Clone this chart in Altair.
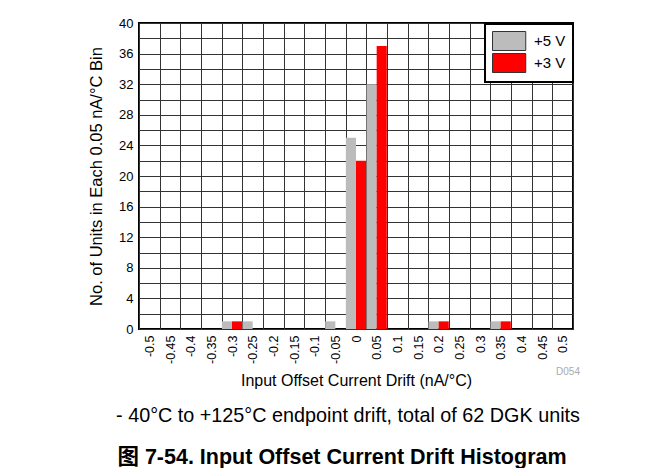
import altair as alt
import pandas as pd

bins = ["-0.5", "-0.45", "-0.4", "-0.35", "-0.3", "-0.25", "-0.2", "-0.15", "-0.1", "-0.05",
        "0", "0.05", "0.1", "0.15", "0.2", "0.25", "0.3", "0.35", "0.4", "0.45", "0.5"]
units_5v = [0, 0, 0, 0, 1, 1, 0, 0, 0, 1, 25, 32, 0, 0, 1, 0, 0, 1, 0, 0, 0]
units_3v = [0, 0, 0, 0, 1, 0, 0, 0, 0, 0, 22, 37, 0, 0, 1, 0, 0, 1, 0, 0, 0]
series = ["+5 V", "+3 V"]
colors = ["#bcbcbc", "#ff0000"]
y_ticks = list(range(0, 41, 2))

x_title = "Input Offset Current Drift (nA/°C)"
y_title = "No. of Units in Each 0.05 nA/°C Bin"
code_text = "D054"
caption_text = "- 40°C to +125°C endpoint drift, total of 62 DGK units"
figure_text = "图 7-54. Input Offset Current Drift Histogram"

FONT = "Liberation Sans, Arial, Noto Sans CJK SC"

rows = []
for b, a, c in zip(bins, units_5v, units_3v):
    rows.append({"bin": b, "series": series[0], "count": a})
    rows.append({"bin": b, "series": series[1], "count": c})
df = pd.DataFrame(rows)

bars = alt.Chart(df).mark_bar().encode(
    x=alt.X("bin:N", sort=bins,
            scale=alt.Scale(paddingInner=0, paddingOuter=0),
            axis=alt.Axis(title=x_title, labelAngle=270, tickBand="extent",
                          grid=True, gridColor="#333333", gridWidth=1, gridOpacity=1,
                          ticks=False, domain=False, labelPadding=6,
                          labelFontSize=12.5, titleFontSize=16, titleFontWeight="normal",
                          labelColor="#000000", titleColor="#000000", titlePadding=9,
                          labelFont=FONT, titleFont=FONT)),
    xOffset=alt.XOffset("series:N", sort=series,
                        scale=alt.Scale(paddingInner=0, paddingOuter=0.02)),
    y=alt.Y("count:Q", scale=alt.Scale(domain=[0, 40], nice=False),
            axis=alt.Axis(title=y_title, values=y_ticks,
                          labelExpr="datum.value % 4 == 0 ? datum.label : ''",
                          grid=True, gridColor="#333333", gridWidth=1, gridOpacity=1,
                          ticks=False, domain=False, labelPadding=6,
                          labelFontSize=13, titleFontSize=16.5, titleFontWeight="normal",
                          labelColor="#000000", titleColor="#000000", titlePadding=14,
                          labelFont=FONT, titleFont=FONT)),
    color=alt.Color("series:N", sort=series,
                    scale=alt.Scale(domain=series, range=colors),
                    legend=alt.Legend(title=None, orient="none", legendX=346, legendY=1,
                                      symbolType="M-1,-1H2.5V1H-1Z", symbolSize=361,
                                      symbolStrokeColor="#333333", symbolStrokeWidth=1,
                                      symbolOpacity=1,
                                      labelFontSize=15, labelFont=FONT, labelColor="#000000",
                                      rowPadding=-5, padding=7, labelOffset=22,
                                      fillColor="#ffffff", strokeColor="#000000")),
)

code_df = pd.DataFrame({"t": [code_text]})
code = alt.Chart(code_df).mark_text(fontSize=10, color="#aaaaaa", font=FONT).encode(
    x=alt.value(429), y=alt.value(349), text="t:N")

cap_df = pd.DataFrame({"t": [caption_text]})
cap = alt.Chart(cap_df).mark_text(fontSize=19.8, color="#000000", font=FONT).encode(
    x=alt.value(209), y=alt.value(393), text="t:N")

fig_df = pd.DataFrame({"t": [figure_text]})
fig = alt.Chart(fig_df).mark_text(fontSize=21.5, fontWeight="bold", color="#000000", font=FONT).encode(
    x=alt.value(203), y=alt.value(435), text="t:N")

chart = alt.layer(bars, code, cap, fig).properties(
    width=434, height=306,
    autosize=alt.AutoSizeParams(type="none"),
    padding={"left": 131, "top": 15, "right": 91, "bottom": 139},
).configure_view(stroke="#000000", strokeWidth=2).configure_legend(strokeWidth=2)

chart.save("out.html", embed_options={"renderer": "svg", "actions": False})
